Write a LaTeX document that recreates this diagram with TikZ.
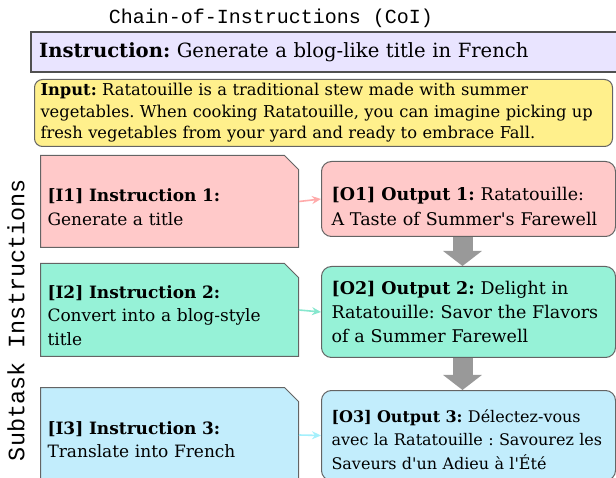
\documentclass[tikz,border=0pt]{standalone}
\usepackage{fontspec}
\setmainfont{DejaVu Serif}[Ligatures=TeXOff]
\setmonofont{Liberation Mono}
\usetikzlibrary{arrows.meta, positioning, shapes.misc}
\definecolor{instrbg}{RGB}{233,228,255}
\definecolor{inputbg}{RGB}{255,240,140}
\definecolor{stepone}{RGB}{255,201,201}
\definecolor{steptwo}{RGB}{150,242,215}
\definecolor{stepthree}{RGB}{194,237,252}
\definecolor{edgegray}{RGB}{100,100,100}
\definecolor{flowgray}{RGB}{153,153,153}
% taller first line pushes a node's text down
\newcommand{\toplift}[1]{\rule{0pt}{#1}}
\tikzset{
  mainbox/.style={draw=edgegray!80!black, line width=2.4pt, fill=instrbg, anchor=north west,
    align=left, inner xsep=8pt, inner ysep=0pt},
  inbox/.style={draw=edgegray, line width=1pt, rounded corners=8pt, fill=inputbg, anchor=north west,
    align=left, inner xsep=6pt, inner ysep=0pt},
  subbox/.style={chamfered rectangle, chamfered rectangle corners=north east,
    chamfered rectangle xsep=7pt, chamfered rectangle ysep=7pt,
    draw=edgegray, line width=1pt, anchor=north west, align=left,
    inner xsep=0pt, inner ysep=0pt, text width=244pt, minimum height=92pt,
    font=\fontsize{17}{23.5}\selectfont},
  outbox/.style={draw=edgegray, line width=1pt, rounded corners=10pt, anchor=north west,
    align=left, inner xsep=10pt, inner ysep=0pt, text width=274pt},
  link/.style={-{Stealth[length=9pt, width=8pt]}, line width=1.6pt},
  pass/.style={draw=flowgray, line width=20pt, -{Triangle[length=15pt, width=38pt]}},
}
\frenchspacing

\begin{document}
\begin{tikzpicture}[x=1pt, y=-1pt]
  \clip (0,0) rectangle (616,478);
  % headings
  \node[font=\ttfamily\fontsize{20}{24}\selectfont] (title) at (271,18) {Chain-of-Instructions (CoI)};
  \node[font=\ttfamily\fontsize{23.5}{26}\selectfont, rotate=90] (side) at (16,320) {Subtask Instructions};
  % task and input
  \node[mainbox, text width=584pt, minimum height=40pt, font=\fontsize{19.6}{26}\selectfont]
    (instr) at (30,31) {\textbf{Instruction:} Generate a blog-like title in French};
  \node[inbox, text width=566pt, minimum height=67pt, font=\fontsize{16.3}{21.5}\selectfont]
    (input) at (34,79) {\textbf{Input:} Ratatouille is a traditional stew made with summer\\
      vegetables. When cooking Ratatouille, you can imagine picking up\\
      fresh vegetables from your yard and ready to embrace Fall.};
  % subtask instructions
  \node[subbox, fill=stepone] (i1) at (40,155)
    {\toplift{24pt}\textbf{[I1] Instruction 1:}\\Generate a title};
  \node[subbox, fill=steptwo, minimum height=93pt] (i2) at (40,263)
    {\toplift{24pt}\textbf{[I2] Instruction 2:}\\Convert into a blog-style\\title};
  \node[subbox, fill=stepthree, minimum height=95pt] (i3) at (40,387)
    {\toplift{22pt}\textbf{[I3] Instruction 3:}\\Translate into French};
  % outputs
  \node[outbox, fill=stepone, minimum height=75pt, font=\fontsize{17.5}{25}\selectfont] (o1) at (321,161)
    {\toplift{29pt}\textbf{[O1] Output 1:} Ratatouille:\\A Taste of Summer's Farewell};
  \node[outbox, fill=steptwo, minimum height=91pt, font=\fontsize{17.5}{24}\selectfont] (o2) at (321,266)
    {\textbf{[O2] Output 2:} Delight in\\Ratatouille: Savor the Flavors\\of a Summer Farewell};
  \node[outbox, fill=stepthree, minimum height=90pt, font=\fontsize{16}{23.5}\selectfont] (o3) at (321,390)
    {\toplift{21pt}\textbf{[O3] Output 3:} Délectez-vous\\avec la Ratatouille : Savourez les\\Saveurs d'un Adieu à l'Été};
  % instruction -> output links
  \draw[link, stepone!85!red] (i1.east) -- (o1.west);
  \draw[link, steptwo!90!teal] (i2.east) -- (o2.west);
  \draw[link, stepthree!85!cyan] (i3.east) -- (o3.west);
  % output chaining
  \draw[pass] ([xshift=-6pt]o1.south) -- ([xshift=-6pt]o2.north);
  \draw[pass] ([xshift=-6pt]o2.south) -- ([xshift=-6pt]o3.north);
\end{tikzpicture}
\end{document}
